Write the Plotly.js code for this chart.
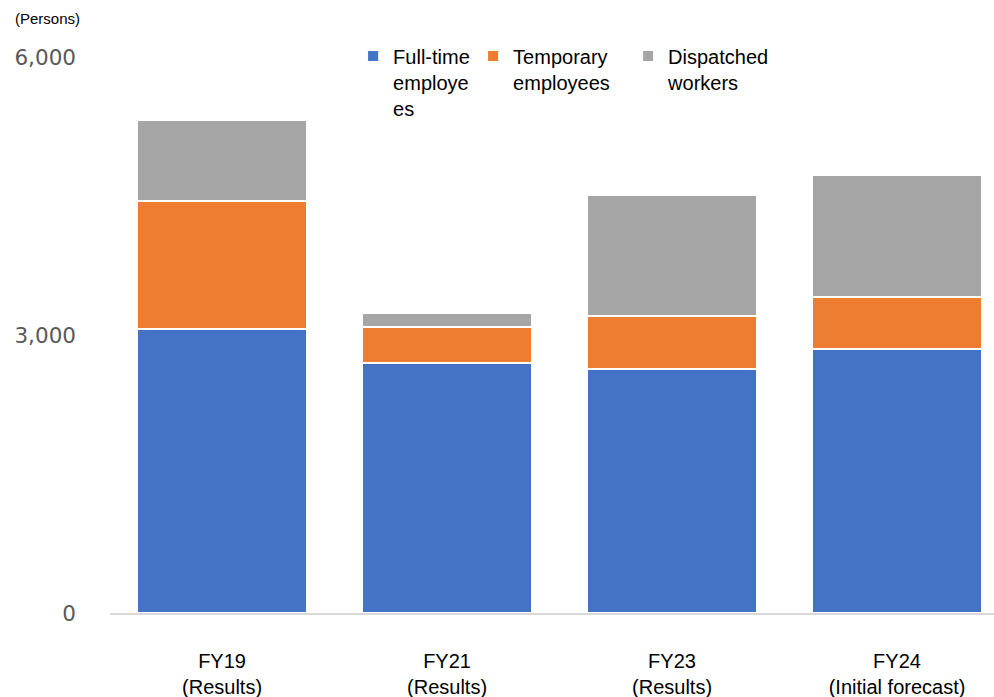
<!DOCTYPE html>
<html>
<head>
<meta charset="utf-8">
<script src="https://cdn.plot.ly/plotly-3.0.1.min.js"></script>
<style>html,body{margin:0;padding:0;background:#fff;}#chart{width:994px;height:697px;}</style>
</head>
<body>
<div id="chart"></div>
<script>
const categories = ["FY19<br>(Results)", "FY21<br>(Results)", "FY23<br>(Results)", "FY24<br>(Initial forecast)"];
const fullTime = [3065, 2694, 2631, 2851];
const temporary = [1378, 395, 576, 554];
const dispatched = [877, 151, 1300, 1321];
const seriesNames = ["Full-time<br>employe<br>es", "Temporary<br>employees", "Dispatched<br>workers"];
const yTicks = [0, 3000, 6000];

const colors = ["#4472C4", "#ED7D31", "#A5A5A5"];
const widths = [75, 110, 120];
const seriesValues = [fullTime, temporary, dispatched];

const data = seriesValues.map((vals, i) => ({
  type: "bar",
  name: seriesNames[i],
  x: categories,
  y: vals,
  marker: {color: colors[i], line: {color: "#ffffff", width: 2}},
  legendwidth: widths[i],
  hoverinfo: "y+name"
}));

const layout = {
  width: 994,
  height: 697,
  margin: {l: 110, r: 0, t: 57, b: 84},
  paper_bgcolor: "#ffffff",
  plot_bgcolor: "#ffffff",
  barmode: "stack",
  bargap: 0.244,
  font: {family: "Liberation Sans, Arial, sans-serif", color: "#000000"},
  xaxis: {
    type: "category",
    range: [-0.498, 3.431],
    showline: true,
    linecolor: "#d9d9d9",
    linewidth: 1.5,
    showgrid: false,
    zeroline: false,
    ticks: "",
    ticklabelstandoff: 29,
    tickfont: {size: 20, color: "#000000", family: "Liberation Sans, Arial, sans-serif"}
  },
  yaxis: {
    range: [0, 6000],
    tickvals: yTicks,
    tickformat: ",",
    showline: false,
    showgrid: false,
    zeroline: false,
    ticks: "",
    ticklabelstandoff: 33,
    tickfont: {size: 21.5, color: "#595959", family: "DejaVu Sans, sans-serif"}
  },
  showlegend: true,
  legend: {
    orientation: "h",
    x: 0.275,
    xanchor: "left",
    y: 1.037,
    yanchor: "top",
    valign: "top",
    traceorder: "normal",
    font: {size: 20, color: "#000000", family: "Liberation Sans, Arial, sans-serif"},
    bgcolor: "rgba(0,0,0,0)"
  },
  annotations: [{
    text: "(Persons)",
    xref: "paper", yref: "paper",
    x: -0.110, y: 1.070,
    xanchor: "left", yanchor: "middle",
    showarrow: false,
    font: {size: 15, color: "#000000", family: "Liberation Sans, Arial, sans-serif"}
  }]
};

Plotly.newPlot("chart", data, layout, {displayModeBar: false, staticPlot: true});
</script>
</body>
</html>
